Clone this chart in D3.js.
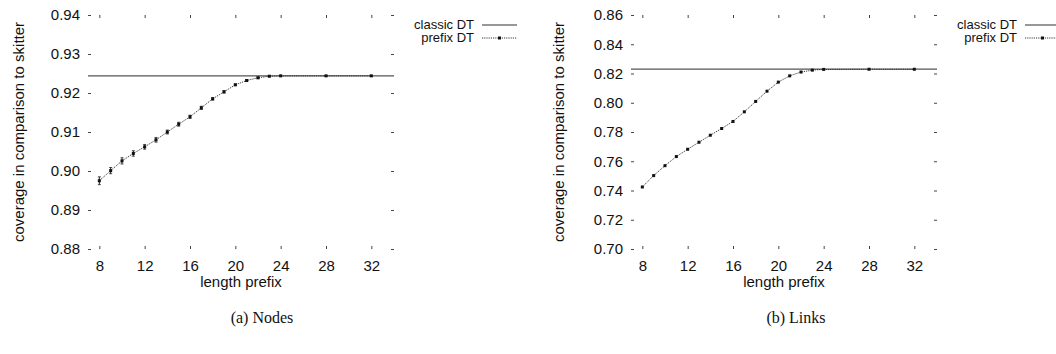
<!DOCTYPE html>
<html><head><meta charset="utf-8">
<script src="https://cdn.jsdelivr.net/npm/d3@7"></script>
<style>
body{margin:0;background:#fff;}
</style></head>
<body><svg id="c" width="1056" height="354"></svg>
<script>
const prefixLengths = [8,9,10,11,12,13,14,15,16,17,18,19,20,21,22,23,24,28,32];
const nodesPrefix = [0.8975,0.9001,0.9026,0.9045,0.9062,0.9080,0.9100,0.9120,0.9139,0.9162,0.9185,0.9203,0.9221,0.9232,0.9239,0.9243,0.9244,0.9244,0.9244];
const nodesErr = [0.0010,0.0008,0.0008,0.0007,0.0006,0.0006,0.0005,0.0005,0.0004,0.0004,0.0003,0.0003,0.0002,0.0002,0.0002,0.0001,0.0001,0.0001,0.0001];
const nodesClassic = 0.9244;
const linksPrefix = [0.7424,0.7502,0.7570,0.7632,0.7682,0.7730,0.7778,0.7824,0.7872,0.7938,0.8009,0.8079,0.8141,0.8184,0.8210,0.8223,0.8228,0.8229,0.8229];
const linksClassic = 0.8230;
const xTicks = [8,12,16,20,24,28,32];
const nodesYTicks = [0.88,0.89,0.90,0.91,0.92,0.93,0.94];
const linksYTicks = [0.70,0.72,0.74,0.76,0.78,0.80,0.82,0.84,0.86];
const yLabel = "coverage in comparison to skitter";
const xLabel = "length prefix";
const legendNames = ["classic DT","prefix DT"];
const captions = ["(a) Nodes","(b) Links"];

const svg = d3.select("#c");
const SANS = "'Liberation Sans', Arial, sans-serif";
const SERIF = "'Liberation Serif', 'Times New Roman', serif";

function panel(cfg){
  const g = svg.append("g");
  const x = d3.scaleLinear().domain([7,34]).range([cfg.left, cfg.right]);
  const y = d3.scaleLinear().domain(cfg.ydom).range([249,15]);
  const tickCol = "#444";
  const ax = [
    g.append("g").attr("transform",`translate(${cfg.left},0)`).call(d3.axisLeft(y).tickValues(cfg.yticks).tickFormat(d3.format(".2f")).tickSize(-3).tickPadding(8)),
    g.append("g").attr("transform",`translate(${cfg.right},0)`).call(d3.axisRight(y).tickValues(cfg.yticks).tickFormat("").tickSize(-3)),
    g.append("g").attr("transform",`translate(0,249)`).call(d3.axisBottom(x).tickValues(xTicks).tickSize(-3).tickPadding(11)),
    g.append("g").attr("transform",`translate(0,15)`).call(d3.axisTop(x).tickValues(xTicks).tickFormat("").tickSize(-3))
  ];
  ax.forEach(a=>{
    a.select(".domain").remove();
    a.selectAll("line").attr("stroke",tickCol).attr("stroke-width",1);
    a.selectAll("text").style("font-size","15px").style("font-family",SANS).attr("fill","#111");
  });
  g.append("line").attr("x1",cfg.left).attr("x2",cfg.right)
    .attr("y1",y(cfg.classic)).attr("y2",y(cfg.classic))
    .attr("stroke","#555").attr("stroke-width",1.3);
  const line = d3.line().x((d,i)=>x(prefixLengths[i])).y(d=>y(d));
  g.append("path").datum(cfg.prefix).attr("d",line).attr("fill","none")
    .attr("stroke","#222").attr("stroke-width",0.9).attr("stroke-dasharray","1.2,1");
  if(cfg.err){
    cfg.prefix.forEach((v,i)=>{
      const e = cfg.err[i], xx = x(prefixLengths[i]);
      g.append("line").attr("x1",xx).attr("x2",xx).attr("y1",y(v-e)).attr("y2",y(v+e)).attr("stroke","#222").attr("stroke-width",1);
      g.append("line").attr("x1",xx-1.5).attr("x2",xx+1.5).attr("y1",y(v-e)).attr("y2",y(v-e)).attr("stroke","#222").attr("stroke-width",0.8);
      g.append("line").attr("x1",xx-1.5).attr("x2",xx+1.5).attr("y1",y(v+e)).attr("y2",y(v+e)).attr("stroke","#222").attr("stroke-width",0.8);
    });
  }
  g.selectAll("rect.pt").data(cfg.prefix).enter().append("rect").attr("class","pt")
    .attr("x",(d,i)=>x(prefixLengths[i])-1.5).attr("y",d=>y(d)-1.5)
    .attr("width",3).attr("height",3).attr("fill","#111");
  g.append("text").attr("x",(cfg.left+cfg.right)/2).attr("y",287).attr("text-anchor","middle")
    .style("font-family",SANS).style("font-size","15px").attr("fill","#111").text(xLabel);
  g.append("text").attr("transform",`translate(${cfg.ylx},132) rotate(-90)`).attr("text-anchor","middle")
    .style("font-family",SANS).style("font-size","15px").attr("fill","#111").text(yLabel);
  const lx = cfg.legX;
  legendNames.forEach((n,i)=>{
    g.append("text").attr("x",lx).attr("y",29+i*13).attr("text-anchor","end")
      .style("font-family",SANS).style("font-size","13px").attr("fill","#111").text(n);
  });
  g.append("line").attr("x1",lx+8).attr("x2",lx+43).attr("y1",25).attr("y2",25).attr("stroke","#333").attr("stroke-width",1.2);
  g.append("line").attr("x1",lx+8).attr("x2",lx+43).attr("y1",38).attr("y2",38).attr("stroke","#222").attr("stroke-width",0.9).attr("stroke-dasharray","1.2,1");
  g.append("rect").attr("x",lx+24).attr("y",36.5).attr("width",3).attr("height",3).attr("fill","#111");
  svg.append("text").attr("x",cfg.capX).attr("y",323).attr("text-anchor","middle")
    .style("font-family",SERIF).style("font-size","16px").attr("fill","#111").text(cfg.caption);
}

panel({left:88,right:394,ydom:[0.88,0.94],yticks:nodesYTicks,classic:nodesClassic,prefix:nodesPrefix,err:nodesErr,ylx:24,legX:474,capX:262,caption:captions[0]});
panel({left:631,right:937,ydom:[0.70,0.86],yticks:linksYTicks,classic:linksClassic,prefix:linksPrefix,err:null,ylx:564,legX:1017,capX:796,caption:captions[1]});
</script></body></html>
